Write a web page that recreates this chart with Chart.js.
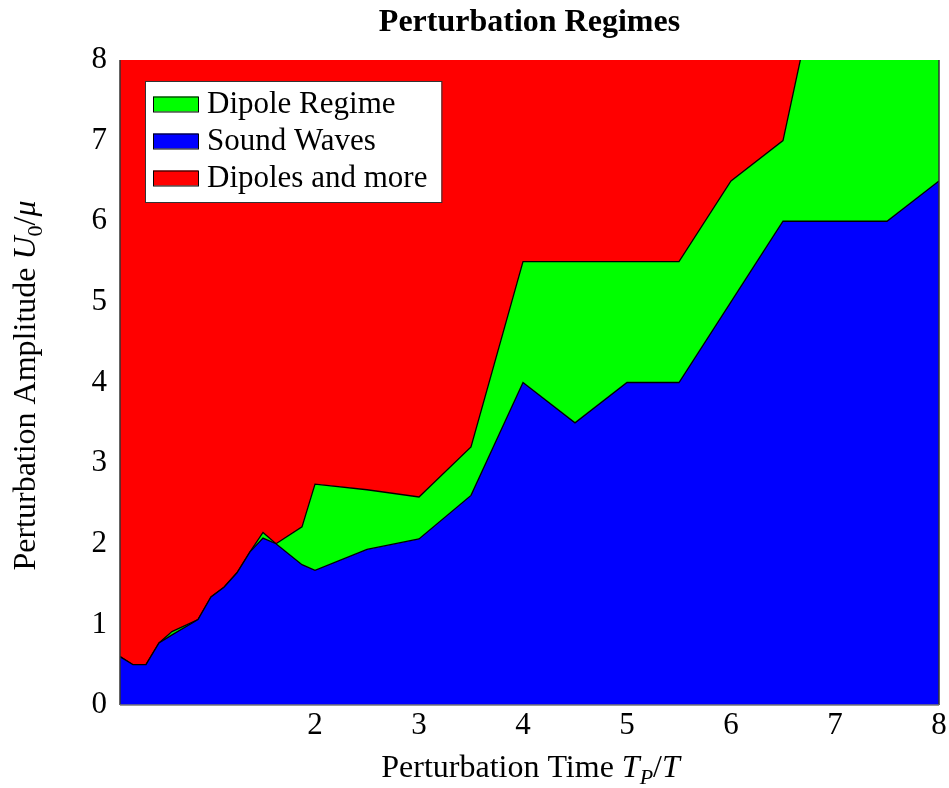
<!DOCTYPE html>
<html><head><meta charset="utf-8">
<script src="https://cdn.jsdelivr.net/npm/chart.js@4.4.0/dist/chart.umd.min.js"></script>
<style>html,body{margin:0;padding:0;background:#fff}#wrap{width:949px;height:788px}</style>
</head><body><div id="wrap"><canvas id="c" width="949" height="788"></canvas></div>
<script>
// ---- data ----
const timeValues = [0.125,0.25,0.375,0.5,0.625,0.875,1,1.125,1.25,1.375,1.5,1.625,1.875,2,2.5,3,3.5,4,4.5,5,5.5,6,6.5,7,7.5,8];
const soundWavesTop = [0.60,0.50,0.50,0.77,0.87,1.06,1.34,1.46,1.64,1.90,2.07,2.00,1.74,1.67,1.93,2.06,2.60,4.00,3.50,4.00,4.00,5.00,6.00,6.00,6.00,6.50];
const dipoleRegimeTop = [0.60,0.50,0.50,0.77,0.91,1.06,1.34,1.46,1.64,1.90,2.14,2.00,2.21,2.74,2.67,2.58,3.20,5.50,5.50,5.50,5.50,6.50,7.00,10,10,10];
const dipolesAndMoreTop = [8,8,8,8,8,8,8,8,8,8,8,8,8,8,8,8,8,8,8,8,8,8,8,8,8,8];
const xTicks = [2,3,4,5,6,7,8];
const yTicks = [0,1,2,3,4,5,6,7,8];
const seriesLabels = ['Sound Waves','Dipole Regime','Dipoles and more'];
const seriesColors = ['#0000ff','#00ff00','#ff0000'];
const legendOrder = [1,0,2];
const titleText = 'Perturbation Regimes';
const xTitle = [{t:'Perturbation Time ',i:false},{t:'T',i:true},{t:'P',i:true,sub:true},{t:'/',i:false},{t:'T',i:true}];
const yTitle = [{t:'Perturbation Amplitude ',i:false},{t:'U',i:true},{t:'0',i:false,sub:true},{t:'/',i:false},{t:'\u03bc',i:true}];

const FAM = '"Liberation Serif","Times New Roman",serif';

function ds(i, vals, fill, bw){
  return {label: seriesLabels[i], data: timeValues.map((x,k)=>({x:x, y:vals[k]})),
    backgroundColor: seriesColors[i], borderColor:'#000', borderWidth: bw, fill: fill,
    pointRadius:0, tension:0};
}

function segFont(s, size){ return (s.i?'italic ':'') + (s.sub? Math.round(size*0.7): size) + 'px ' + FAM; }
function segWidth(ctx, segs, size){
  let w=0; segs.forEach(s=>{ctx.font=segFont(s,size); w+=ctx.measureText(s.t).width;}); return w;
}
function drawSegs(ctx, segs, size, x, y){
  segs.forEach(s=>{ ctx.font=segFont(s,size); ctx.fillText(s.t, x, y + (s.sub? size*0.22:0)); x += ctx.measureText(s.t).width; });
}

const decor = {
  id:'decor',
  afterDatasetsDraw(chart){
    const ctx = chart.ctx, a = chart.chartArea;
    ctx.save();
    // frame
    ctx.lineWidth = 1.5; ctx.strokeStyle = '#333';
    ctx.beginPath();
    ctx.moveTo(a.left, a.top); ctx.lineTo(a.left, a.bottom);
    ctx.moveTo(a.right, a.top); ctx.lineTo(a.right, a.bottom);
    ctx.stroke();
    ctx.strokeStyle = '#777'; ctx.lineWidth = 1.5;
    ctx.beginPath(); ctx.moveTo(a.left, a.bottom); ctx.lineTo(a.right, a.bottom); ctx.stroke();
    // legend
    const fs = 31;
    ctx.font = fs + 'px ' + FAM;
    let maxW = 0;
    legendOrder.forEach(i=>{ maxW = Math.max(maxW, ctx.measureText(chart.data.datasets[i].label).width); });
    const bx = a.left + 25, by = a.top + 21;
    const tx = a.left + 87;
    const bw = tx + maxW + 14 - bx, bh = 121;
    ctx.fillStyle = '#fff'; ctx.fillRect(bx, by, bw, bh);
    ctx.strokeStyle = '#333'; ctx.lineWidth = 1; ctx.strokeRect(bx+0.5, by+0.5, bw, bh);
    legendOrder.forEach((i, r)=>{
      const d = chart.data.datasets[i];
      const cy = a.top + 44 + r*37;
      ctx.fillStyle = d.backgroundColor;
      ctx.fillRect(a.left+33, cy-7.5, 45, 15);
      ctx.strokeStyle = '#000'; ctx.lineWidth = 1;
      ctx.strokeRect(a.left+33.5, cy-7, 45, 15);
      ctx.fillStyle = '#000'; ctx.textBaseline = 'middle'; ctx.textAlign = 'left';
      ctx.font = fs + 'px ' + FAM;
      ctx.fillText(d.label, tx, cy+1);
    });
    ctx.restore();
  },
  afterDraw(chart){
    const ctx = chart.ctx, a = chart.chartArea;
    ctx.save();
    ctx.fillStyle = '#000'; ctx.textBaseline = 'alphabetic'; ctx.textAlign = 'left';
    const size = 32;
    const wx = segWidth(ctx, xTitle, size);
    drawSegs(ctx, xTitle, size, (a.left + a.right)/2 - wx/2 + 1, 777);
    const wy = segWidth(ctx, yTitle, size);
    ctx.translate(35, (a.top + a.bottom)/2 + 3);
    ctx.rotate(-Math.PI/2);
    drawSegs(ctx, yTitle, size, -wy/2, 0);
    ctx.restore();
  }
};

new Chart(document.getElementById('c'), {
  type:'line',
  data:{ datasets:[
    ds(0, soundWavesTop, 'origin', 1.3),
    ds(1, dipoleRegimeTop, '-1', 1.3),
    ds(2, dipolesAndMoreTop, '-1', 0)
  ]},
  options:{
    responsive:false, animation:false, devicePixelRatio:1,
    layout:{padding:{left:0,right:10,top:0,bottom:0}},
    plugins:{
      legend:{display:false}, tooltip:{enabled:false},
      title:{display:true, text:titleText, fullSize:false, color:'#000',
        font:{family:FAM, size:32, weight:'bold'}, padding:{top:4,bottom:17.6}}
    },
    scales:{
      x:{type:'linear', min:0.125, max:8,
        afterBuildTicks:s=>{ s.ticks = xTicks.map(v=>({value:v})); },
        afterFit:s=>{ s.height = 83; },
        grid:{display:false, drawTicks:false}, border:{display:false},
        ticks:{color:'#000', font:{family:FAM, size:31}, padding:2, maxRotation:0, autoSkip:false}},
      y:{type:'linear', min:0, max:8,
        afterBuildTicks:s=>{ s.ticks = yTicks.map(v=>({value:v})); },
        afterFit:s=>{ s.width = 120; },
        grid:{display:false, drawTicks:false}, border:{display:false},
        ticks:{color:'#000', font:{family:FAM, size:31}, padding:13, autoSkip:false}}
    }
  },
  plugins:[decor]
});
</script></body></html>
